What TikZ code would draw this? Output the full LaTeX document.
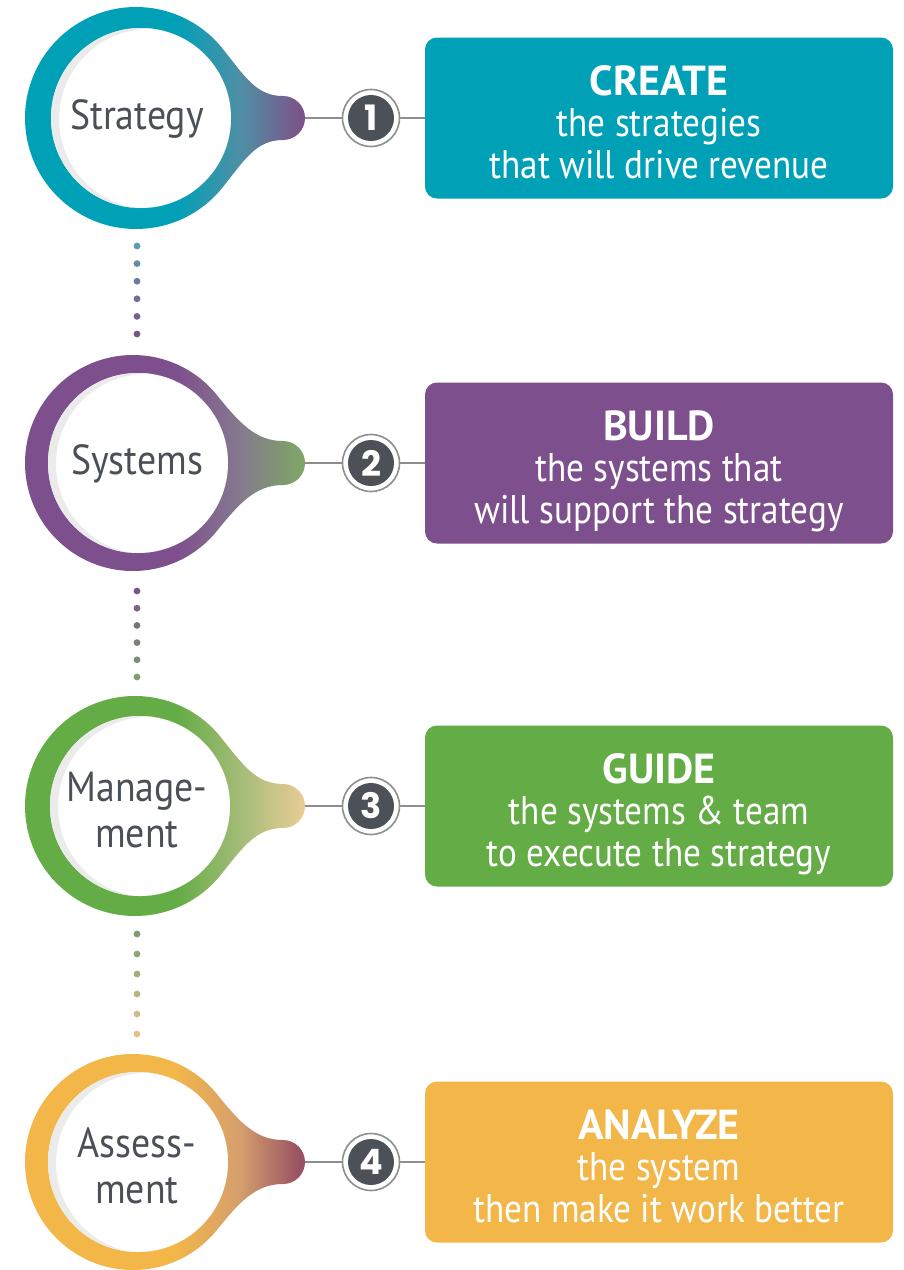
\documentclass[tikz,border=0pt]{standalone}
\usepackage{fontspec}
\usetikzlibrary{calc}
\setmainfont{PT Sans}
\newfontfamily\labfont[FakeStretch=0.9]{PT Sans}
\newfontfamily\boxfont[FakeStretch=0.88]{PT Sans}
\newfontfamily\headfam{PT Sans}
\newfontfamily\digitfont{Poppins}

% ring / card colours, tail middle tones and bulb tones
\definecolor{tealC}{HTML}{00A0B7}
\definecolor{tealM}{HTML}{4F8FA5}
\definecolor{tealB}{HTML}{7B558A}
\definecolor{purpC}{HTML}{7E4F8D}
\definecolor{purpM}{HTML}{857A8E}
\definecolor{purpB}{HTML}{7EA467}
\definecolor{grnC}{HTML}{64AC45}
\definecolor{grnM}{HTML}{A5BC78}
\definecolor{grnB}{HTML}{E3CB93}
\definecolor{goldC}{HTML}{F2B649}
\definecolor{goldM}{HTML}{D49E6E}
\definecolor{goldB}{HTML}{995262}
\definecolor{labgray}{HTML}{4B5056}
\definecolor{badgedark}{HTML}{4B5157}
\definecolor{ringgray}{HTML}{8E8E8E}
\definecolor{shadowgray}{HTML}{EBEBEB}
% dot tones
\definecolor{dotA}{HTML}{5E9BAA}
\definecolor{dotB}{HTML}{7B5488}
\definecolor{dotC}{HTML}{7D9E6E}
\definecolor{dotD}{HTML}{E2C28C}

% horizontal blends: solid ring colour on the left, fading into the bulb colour
\pgfdeclarehorizontalshading{pinone}{100bp}{color(0bp)=(tealC); color(53bp)=(tealC); color(64bp)=(tealM); color(74bp)=(tealB); color(100bp)=(tealB)}
\pgfdeclarehorizontalshading{pintwo}{100bp}{color(0bp)=(purpC); color(53bp)=(purpC); color(64bp)=(purpM); color(74bp)=(purpB); color(100bp)=(purpB)}
\pgfdeclarehorizontalshading{pinthree}{100bp}{color(0bp)=(grnC); color(53bp)=(grnC); color(64bp)=(grnM); color(74bp)=(grnB); color(100bp)=(grnB)}
\pgfdeclarehorizontalshading{pinfour}{100bp}{color(0bp)=(goldC); color(53bp)=(goldC); color(64bp)=(goldM); color(74bp)=(goldB); color(100bp)=(goldB)}

% #1 centre x, #2 centre y, #3 outer radius, #4 shading
\newcommand\pinshape[4]{%
  \shade[shading=#4] ({#1+#3*cos(40)},{#2-#3*sin(40)})
    .. controls ({#1+#3*cos(40)+24},{#2-#3*sin(40)+30}) and (256,{#2-22}) .. (283,{#2-22})
    arc[start angle=-90, end angle=90, radius=22]
    .. controls (256,{#2+22}) and ({#1+#3*cos(40)+24},{#2+#3*sin(40)-30}) .. ({#1+#3*cos(40)},{#2+#3*sin(40)})
    arc[start angle=40, end angle=320, radius=#3] -- cycle;
  \fill[white] ({#1+5},#2) circle[radius=90];
  \begin{scope}
    \clip ({#1+5},#2) circle[radius=90];
    \fill[shadowgray, even odd rule] ({#1+5},#2) circle[radius=90] ({#1+13},{#2+1}) circle[radius=90];
  \end{scope}
}

% column of fading dots: #1 first y, #2 step, #3 from colour, #4 to colour
\newcommand\dotcolumn[4]{%
  \foreach \k in {0,...,5}{
    \pgfmathsetmacro\mixpct{20*\k}
    \fill[#4!\mixpct!#3] (137,{#1+#2*\k}) circle[radius=3.4];
  }
}

\newcommand\lastdepth{\rule[-11pt]{0pt}{11pt}}

\begin{document}
\begin{tikzpicture}[x=1pt,y=-1pt,
  lab/.style={font=\labfont\fontsize{42}{46}\selectfont, text=labgray, align=center, inner sep=0pt},
  badge/.style={circle, minimum size=57pt, inner sep=0pt, draw=ringgray, line width=1.6pt,
    fill=white, text=white, font=\digitfont\bfseries\fontsize{35}{35}\selectfont,
    path picture={\fill[badgedark] (path picture bounding box.center) circle[radius=23pt];}},
  card/.style={rectangle, rounded corners=12pt, minimum width=468pt, minimum height=161pt, inner sep=0pt},
  cardtext/.style={font=\boxfont\fontsize{40}{41.5}\selectfont, text=white, align=center, inner sep=0pt},
  conn/.style={draw=ringgray, line width=1.6pt},
]
\newcommand\headfont{\headfam\fontsize{42}{41.5}\selectfont\bfseries}
\useasboundingbox[fill=white] (0,0) rectangle (904,1270);

% pins
\pinshape{136}{118}{111}{pinone}
\pinshape{133}{463}{108}{pintwo}
\pinshape{135}{806}{110}{pinthree}
\pinshape{133}{1162}{108}{pinfour}

% dotted links between pins
\dotcolumn{246}{17.6}{dotA}{dotB}
\dotcolumn{591}{17.2}{dotB}{dotC}
\dotcolumn{934}{20}{dotC}{dotD}

% pin labels
\node[lab] (lab1) at (137,120.2) {Strategy\lastdepth};
\node[lab] (lab2) at (137,465.2) {Systems\lastdepth};
\node[lab] (lab3) at (137,815.2) {Manage-\\ment\lastdepth};
\node[lab] (lab4) at (137,1171.2) {Assess-\\ment\lastdepth};

% tips of the pins
\coordinate (tip1) at (305,118);
\coordinate (tip2) at (305,463);
\coordinate (tip3) at (305,806);
\coordinate (tip4) at (305,1162);

% numbered badges
\node[badge] (b1) at (371,118) {1};
\node[badge] (b2) at (371,463) {2};
\node[badge] (b3) at (371,806) {3};
\node[badge] (b4) at (371,1162) {4};

% cards
\node[card, fill=tealC] (card1) at (659,118) {};
\node[card, fill=purpC] (card2) at (659,463) {};
\node[card, fill=grnC] (card3) at (659,806) {};
\node[card, fill=goldC] (card4) at (659,1162) {};

\node[cardtext] (txt1) at ($(card1.center)+(0,9.2)$) {{\headfont CREATE}\\the strategies\\that will drive revenue\lastdepth};
\node[cardtext] (txt2) at ($(card2.center)+(0,9.2)$) {{\headfont BUILD}\\the systems that\\will support the strategy\lastdepth};
\node[cardtext] (txt3) at ($(card3.center)+(0,9.2)$) {{\headfont GUIDE}\\the systems \& team\\to execute the strategy\lastdepth};
\node[cardtext] (txt4) at ($(card4.center)+(0,9.2)$) {{\headfont ANALYZE}\\the system\\then make it work better\lastdepth};

% connectors
\foreach \i in {1,...,4}{
  \draw[conn] (tip\i) -- (b\i);
  \draw[conn] (b\i) -- (card\i);
}
\end{tikzpicture}
\end{document}
